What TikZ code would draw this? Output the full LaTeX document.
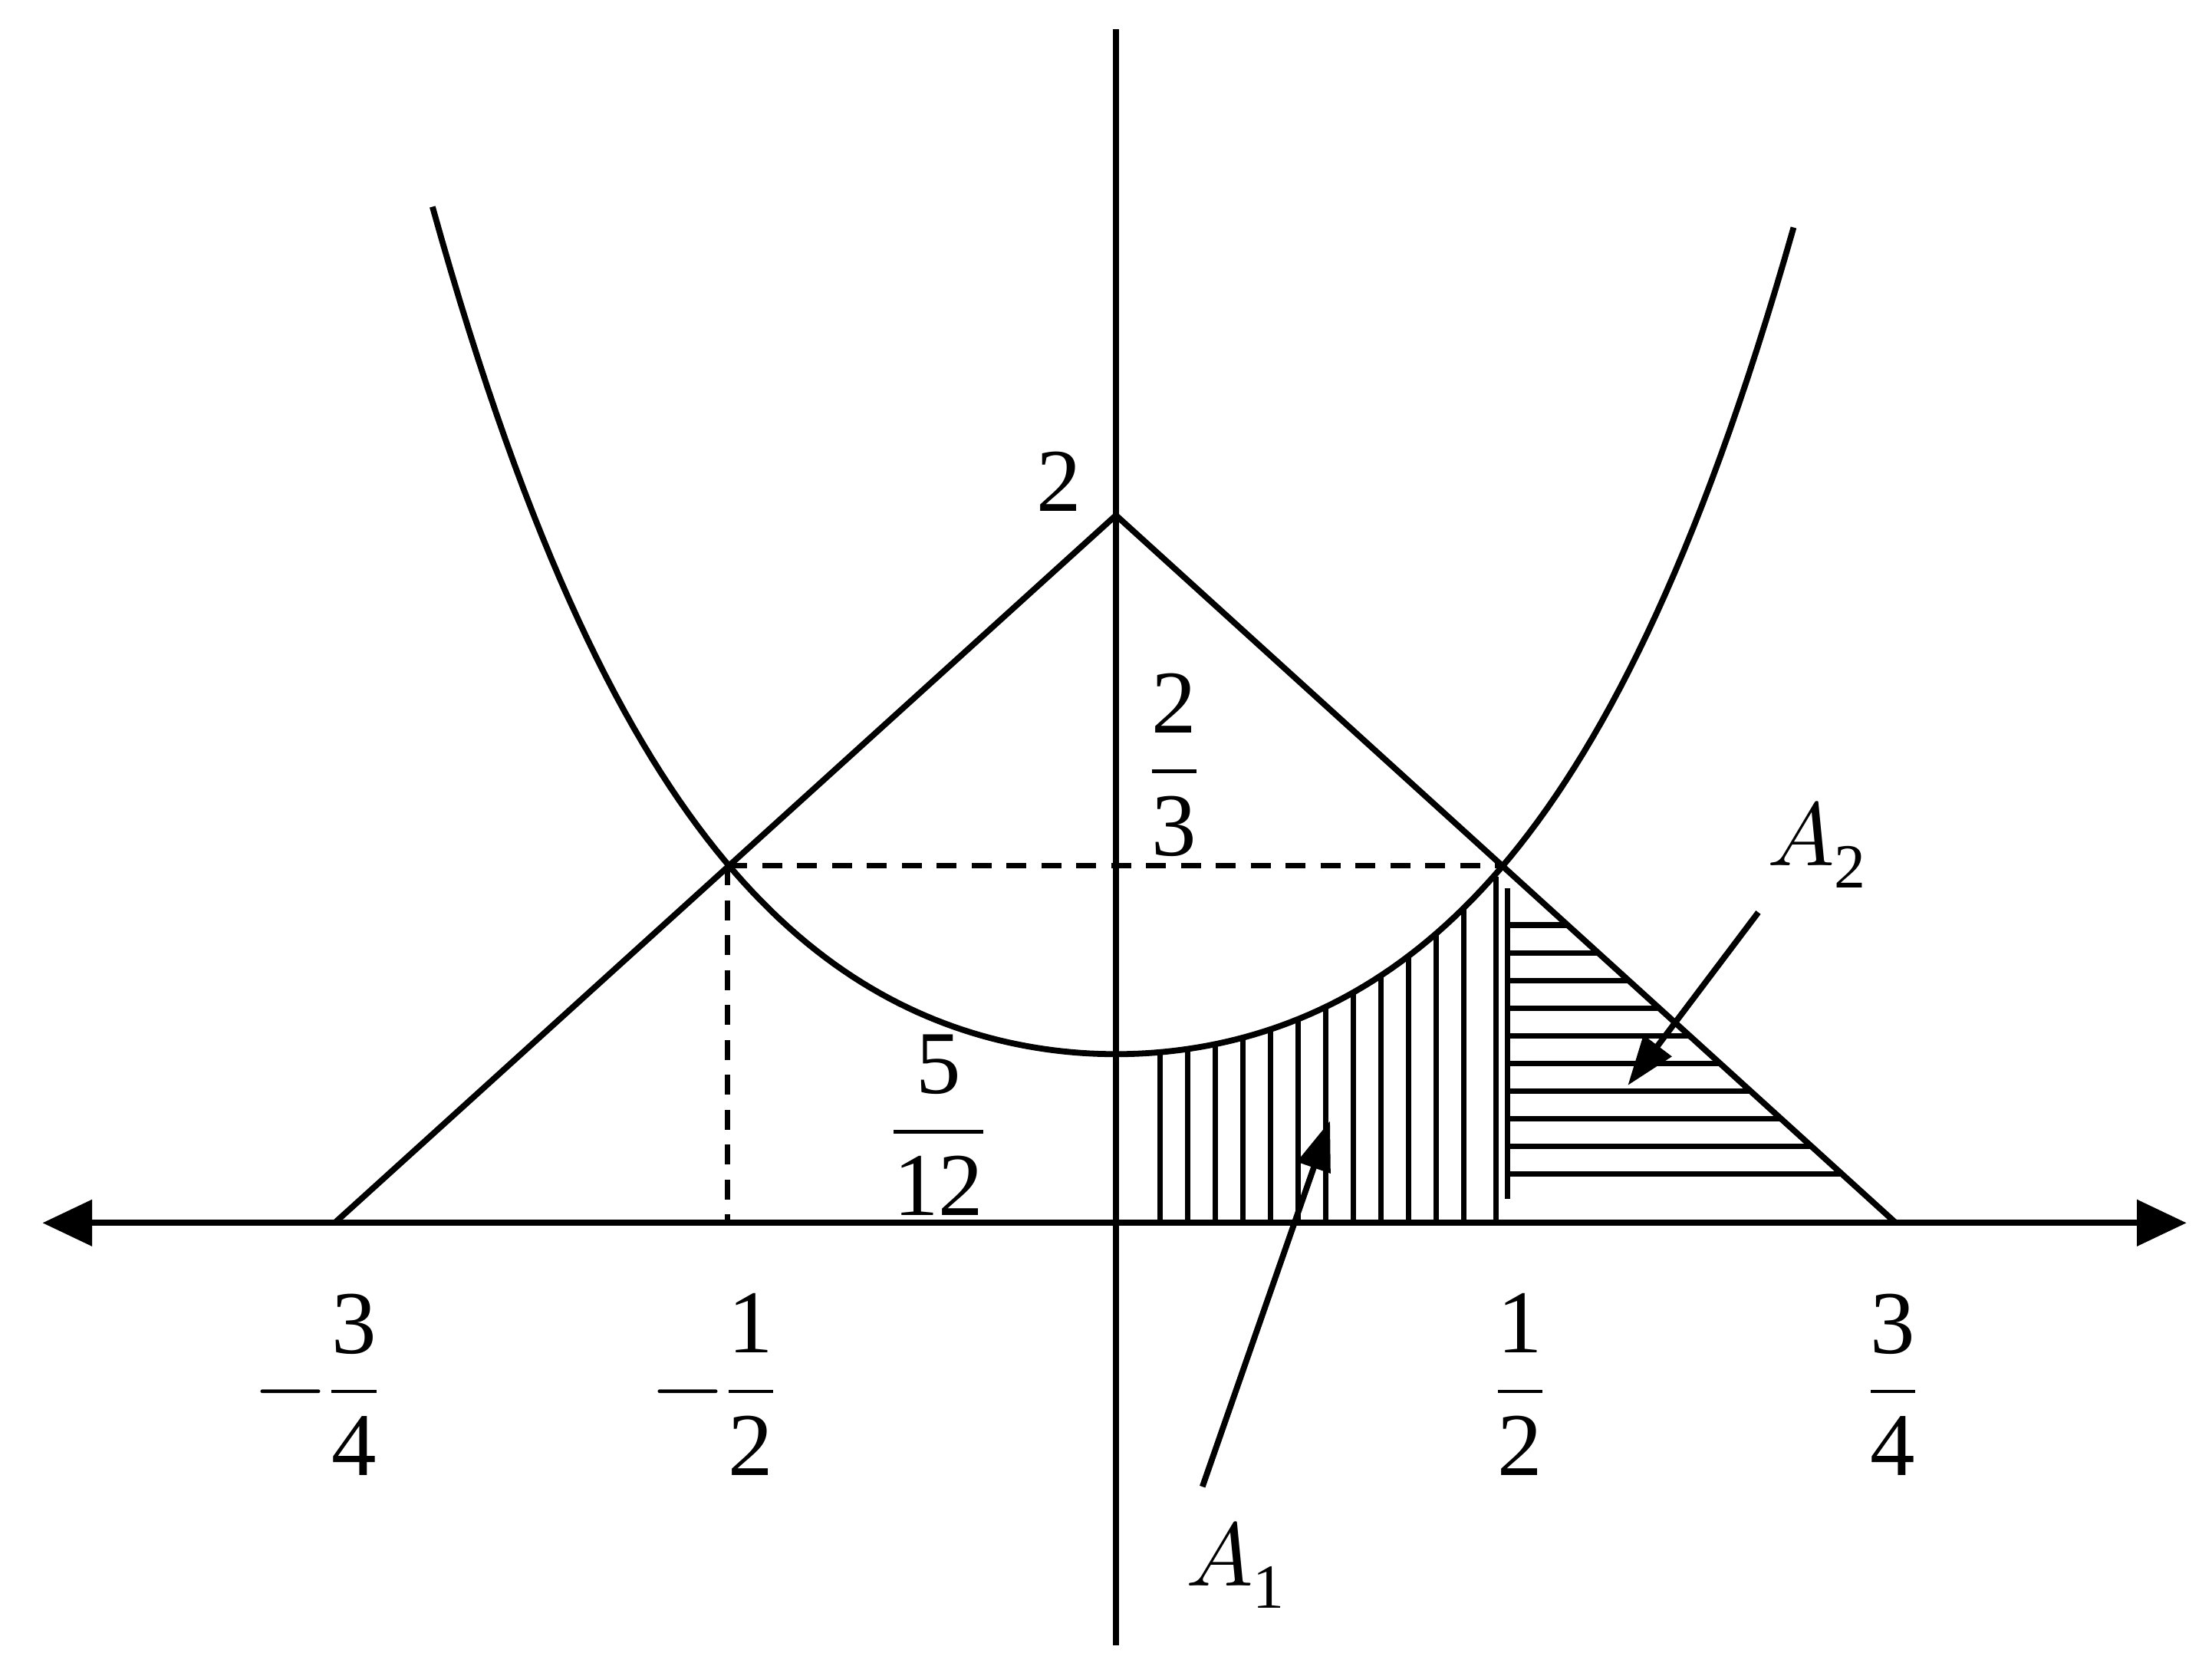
\documentclass[tikz,border=0pt]{standalone}
\usepackage{fontspec}
\setmainfont{Liberation Serif}
\usepackage{unicode-math}
\setmathfont{Latin Modern Math}
\setmathfont[range={up/num,it/latin,"2212}]{Liberation Serif}
\usetikzlibrary{arrows.meta}
\tikzset{ln/.style={line width=1.2pt},lbl/.style={font=\fontsize{18}{22}\selectfont},
 hat/.style={line width=1.1pt}}
\def\parab(#1){4.38+0.1413*(#1-7.87)^2+0.004983*(#1-7.87)^4}
\begin{document}
\begin{tikzpicture}
\useasboundingbox (0,0) rectangle (15.6,11.814);
% axes
\draw[ln,{Triangle[length=3.5mm,width=3.2mm]}-{Triangle[length=3.5mm,width=3.2mm]}] (0.3,3.19) -- (15.42,3.19);
\draw[ln] (7.87,0.21) -- (7.87,11.61);
% triangle
\draw[ln] (2.36,3.19) -- (7.87,8.18) -- (13.37,3.19);
% parabola
\draw[ln,domain=3.05:12.65,samples=150] plot (\x,{\parab(\x)});
% dashed
\draw[ln,dashed,dash pattern=on 4pt off 3pt] (5.13,5.71) -- (10.60,5.71);
\draw[ln,dashed,dash pattern=on 4pt off 3pt] (5.13,5.71) -- (5.13,3.19);
% A1 hatching
\foreach \x in {8.18,8.375,...,10.45} \draw[hat] (\x,3.19) -- (\x,{\parab(\x)});
\draw[hat] (10.55,3.19) -- (10.55,5.63);
% A2 hatching
\draw[hat] (10.63,3.36) -- (10.63,5.55);
\foreach \py in {652,671.5,...,846} {
  \pgfmathsetmacro\yy{(1181-\py)/100}
  \draw[hat] (10.63,\yy) -- ({13.37-(\yy-3.19)*(2.77/2.52)},\yy);
}
% arrows
\draw[ln,-{Triangle[length=3.5mm,width=2.4mm]}] (8.48,1.33) -- (9.38,3.91);
\draw[ln,-{Triangle[length=3.5mm,width=2.4mm]}] (12.40,5.38) -- (11.48,4.16);
% labels
\node[lbl] (A1) at (8.72,0.78) {$A_{1}$};
\node[lbl] (A2) at (12.82,5.86) {$A_{2}$};
\node[lbl] (two) at (7.47,8.42) {$2$};
\node[lbl] (f23) at (8.28,6.42) {$\dfrac{2}{3}$};
\node[lbl] (f512) at (6.62,3.88) {$\dfrac{5}{12}$};
\node[lbl] (m34) at (2.25,2.05) {$-\dfrac{3}{4}$};
\node[lbl] (m12) at (5.05,2.05) {$-\dfrac{1}{2}$};
\node[lbl] (p12) at (10.72,2.05) {$\dfrac{1}{2}$};
\node[lbl] (p34) at (13.35,2.05) {$\dfrac{3}{4}$};
\end{tikzpicture}
\end{document}
